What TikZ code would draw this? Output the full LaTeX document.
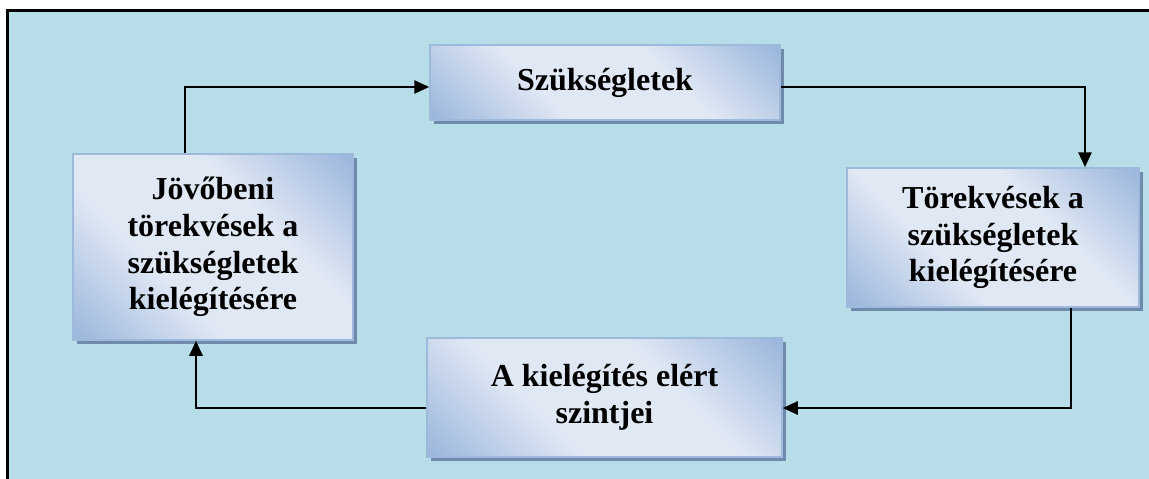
\documentclass[tikz,border=0pt]{standalone}
\usepackage{fontspec}
\setmainfont{Liberation Serif}
\usetikzlibrary{arrows.meta,shadows}
\definecolor{bgblue}{HTML}{B7DDE8}
\definecolor{boxblue}{HTML}{8CABD7}
\definecolor{boxlight}{HTML}{E0E8F4}
\definecolor{boxedge}{HTML}{9DB9DC}
\definecolor{shadowcol}{HTML}{6F8AAA}
% diagonal band: blue corners, broad pale middle
\pgfdeclareverticalshading{boxband}{100bp}{%
  color(0bp)=(boxblue); color(10bp)=(boxblue); color(38bp)=(boxlight);
  color(62bp)=(boxlight); color(90bp)=(boxblue); color(100bp)=(boxblue)}
\tikzset{
  box/.style={draw=boxedge, line width=1.5pt,
    shading=boxband, shading angle=-45, align=center, inner sep=0pt,
    font=\bfseries\fontsize{32}{36.7}\selectfont,
    drop shadow={shadow xshift=4pt, shadow yshift=-4pt, fill=shadowcol, opacity=1}},
  arr/.style={line width=2.6pt, -{Triangle[length=15pt,width=13pt]}}
}
\begin{document}
\begin{tikzpicture}[x=1pt,y=-1pt]
  \useasboundingbox (0,0) rectangle (1149,479);
  \fill[white] (0,0) rectangle (1149,479);
  % framed background panel
  \draw[line width=3pt, fill=bgblue] (7,10) rectangle (1200,530);

  % the four stages of the cycle
  \node[box, minimum width=350pt, minimum height=75pt] (szuk) at (605,82.5) {Szükségletek};
  \node[box, minimum width=292pt, minimum height=139pt] (tor) at (993,237.5)
    {Törekvések a\\szükségletek\\kielégítésére};
  \node[box, minimum width=355pt, minimum height=119pt] (ach) at (604.5,397.5)
    {A kielégítés elért\\szintjei};
  \node[box, minimum width=280pt, minimum height=186pt] (jov) at (213,247)
    {Jövőbeni\\törekvések a\\szükségletek\\kielégítésére};

  % connectors
  \draw[arr] ([xshift=-28pt]jov.north) |- ([yshift=-4.5pt]szuk.west);
  \draw[arr] ([yshift=-4.5pt]szuk.east) -| ([xshift=92pt]tor.north);
  \draw[arr] ([xshift=78pt]tor.south) |- ([yshift=-10.5pt]ach.east);
  \draw[arr] ([yshift=-10.5pt]ach.west) -| ([xshift=-17pt]jov.south);
\end{tikzpicture}
\end{document}
